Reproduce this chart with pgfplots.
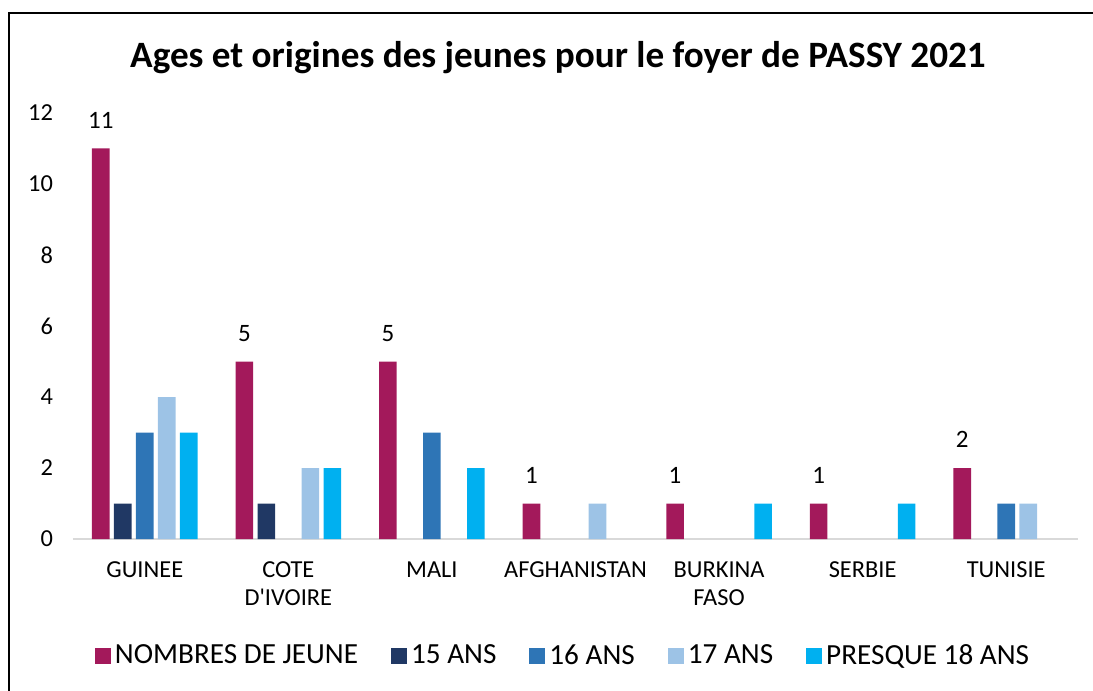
\documentclass[border=0pt]{standalone}
\usepackage{fontspec}
\setmainfont{Carlito}
\usepackage{pgfplots}
\pgfplotsset{compat=1.18}
\definecolor{cA}{HTML}{A3195B}
\definecolor{cB}{HTML}{203864}
\definecolor{cC}{HTML}{2E75B6}
\definecolor{cD}{HTML}{9DC3E6}
\definecolor{cE}{HTML}{00B0F0}
\definecolor{baseline}{HTML}{D9D9D9}
\begin{document}
\begin{tikzpicture}
\useasboundingbox (-36.5pt,-76pt) rectangle (510pt,269.5pt);
\draw[line width=0.7pt] (-32pt,-80pt) -- (-32pt,263pt) -- (515pt,263pt);
\node[font=\fontsize{18.6}{22}\selectfont\bfseries, anchor=base, inner sep=0pt] at (242.5pt,235.5pt) {Ages et origines des jeunes pour le foyer de PASSY 2021};
\begin{axis}[
  at={(0pt,0pt)}, anchor=south west,
  width=502.5pt, height=213pt, scale only axis,
  xmin=-0.5, xmax=6.5, ymin=0, ymax=12,
  ybar=2.2pt, bar width=8.8pt,
  axis x line*=bottom, axis y line*=left,
  x axis line style={draw=baseline, line width=0.75pt},
  y axis line style={draw=none},
  major tick length=0pt,
  xtick={0,...,6},
  xticklabels={GUINEE, {COTE\\D\textquotesingle IVOIRE}, MALI, AFGHANISTAN, {BURKINA\\FASO}, SERBIE, TUNISIE},
  ytick={0,2,...,12},
  /pgf/number format/assume math mode=true,
  xticklabel style={font=\fontsize{12.2}{14}\selectfont, align=center, yshift=-8pt},
  yticklabel style={font=\fontsize{12.2}{14}\selectfont, xshift=-6.5pt},
  legend image code/.code={\fill[#1] (0pt,-4pt) rectangle (8pt,4pt);},
  legend columns=5,
  legend style={draw=none, fill=none, at={(axis description cs:0.4886,-0.2746)}, anchor=center,
    font=\fontsize{14.6}{17}\selectfont,
    /tikz/every even column/.append style={column sep=14.5pt}},
]
\addplot[fill=cA, draw=none, nodes near coords, nodes near coords style={font=\fontsize{12.5}{14}\selectfont, anchor=south, yshift=6.5pt}] coordinates {(0,11) (1,5) (2,5) (3,1) (4,1) (5,1) (6,2)};
\addplot[fill=cB, draw=none] coordinates {(0,1) (1,1)};
\addplot[fill=cC, draw=none] coordinates {(0,3) (2,3) (6,1)};
\addplot[fill=cD, draw=none] coordinates {(0,4) (1,2) (3,1) (6,1)};
\addplot[fill=cE, draw=none] coordinates {(0,3) (1,2) (2,2) (4,1) (5,1)};
\legend{NOMBRES DE JEUNE, 15 ANS, 16 ANS, 17 ANS, PRESQUE 18 ANS}
\end{axis}
\end{tikzpicture}
\end{document}
